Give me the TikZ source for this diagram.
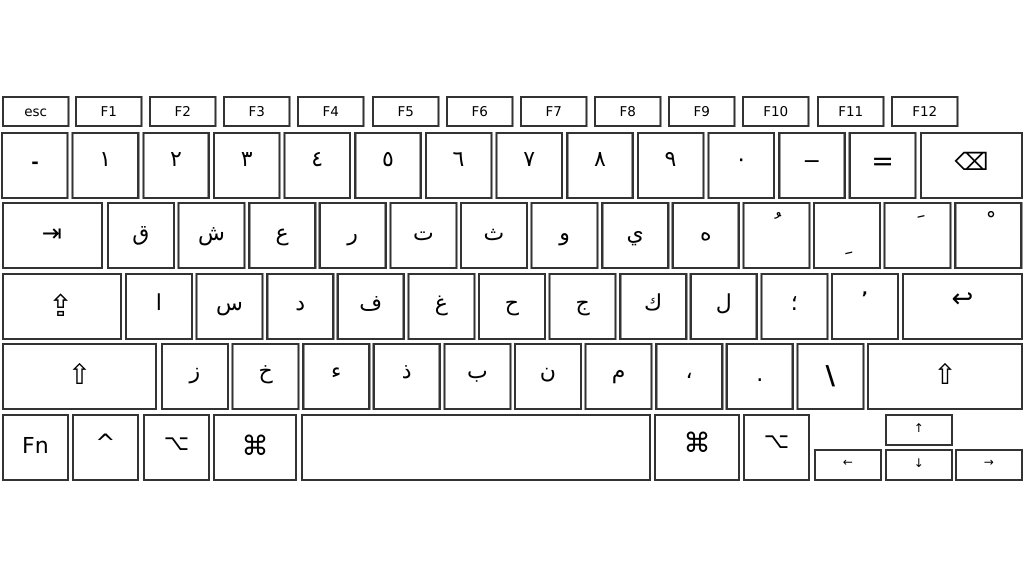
\documentclass[tikz,border=0pt]{standalone}
\usepackage{fontspec}
\setmainfont{DejaVu Sans}
\newfontfamily\arfont[Script=Arabic]{DejaVu Sans}
\TeXXeTstate=1
\newcommand\mykey[5]{\node[keybox, minimum width={((#4)-(#2))*1pt}, minimum height={((#5)-(#3))*1pt}] (#1) at ({((#2)+(#4))/2},{((#3)+(#5))/2}) {};}
\tikzset{
  keybox/.style={draw=black!40, line width=0.55pt, double=black!80, double distance=1.6pt, inner sep=0pt, outer sep=0pt},
  lab/.style={inner sep=0pt, outer sep=0pt, anchor=base},
  fk/.style={lab, font=\fontsize{13.5}{15}\selectfont, yshift=-4.8pt},
  ar/.style={lab, font=\arfont\fontsize{22}{26}\selectfont},
  dg/.style={lab, font=\arfont\fontsize{22}{26}\selectfont},
  sym/.style={inner sep=0pt, outer sep=0pt, anchor=center, font=\fontsize{18}{20}\selectfont},
  dia/.style={sym, font=\arfont\fontsize{24}{28}\selectfont},
}
\begin{document}
\begin{tikzpicture}[x=1pt,y=-1pt]
\useasboundingbox (0,0) rectangle (1024,576);
% function row
\foreach \t/\L in {esc/3, F1/76, F2/150, F3/224, F4/298, F5/373, F6/447, F7/521, F8/595, F9/669, F10/743, F11/818, F12/892} {
  \mykey{f\t}{\L}{97}{\L+65.5}{126}
  \node[fk] (f\t-t) at (f\t.center) {\t};
}
% number row
\mykey{n0}{2}{133}{67.5}{198}
\node[sym, font=\bfseries\fontsize{18}{20}\selectfont] (n0-t) at (35,165) {-};
\foreach \t [count=\i] in {١,٢,٣,٤,٥,٦,٧,٨,٩,٠} {
  \pgfmathsetmacro\L{2+70.65*\i}
  \mykey{n\i}{\L}{133}{\L+65.5}{198}
  \node[dg, yshift=-1pt] (n\i-t) at (n\i.center) {\beginR\t\endR};
}
\mykey{n11}{779.2}{133}{844.7}{198}
\node[sym, font=\fontsize{22}{24}\selectfont] (n11-t) at ([yshift=0.5pt]n11.center) {−};
\mykey{n12}{849.8}{133}{915.3}{198}
\node[sym, font=\fontsize{27}{30}\selectfont] (n12-t) at ([yshift=1pt]n12.center) {=};
\mykey{bksp}{921}{133}{1022}{198}
\node[sym, font=\fontsize{24}{26}\selectfont] (bksp-t) at ([yshift=4pt]bksp.center) {⌫};
% row 2
\mykey{tab}{3}{203}{102}{268}
\node[sym, font=\fontsize{24}{26}\selectfont] (tab-t) at ([xshift=-0.5pt,yshift=0pt]tab.center) {⇥};
\foreach \t [count=\i from 0] in {ق,ش,ع,ر,ت,ث,و,ي,ه} {
  \pgfmathsetmacro\L{108+70.6*\i}
  \mykey{q\i}{\L}{203}{\L+66}{268}
  \node[ar, yshift=-5pt] (q\i-t) at (q\i.center) {\beginR\t\endR};
}
\mykey{q9}{743.4}{203}{809.4}{268}
\node[dia] (q9-t) at ([xshift=1.5pt,yshift=12pt]q9.center) {ﹸ};
\mykey{q10}{814}{203}{880}{268}
\node[dia] (q10-t) at ([xshift=2pt,yshift=-18pt]q10.center) {ﹺ};
\mykey{q11}{884.6}{203}{950.6}{268}
\node[dia] (q11-t) at ([xshift=3.5pt,yshift=12pt]q11.center) {ﹶ};
\mykey{q12}{955.2}{203}{1021.2}{268}
\node[dia] (q12-t) at ([xshift=3pt,yshift=14pt]q12.center) {ﹾ};
% row 3
\mykey{caps}{3}{274}{121}{339}
\node[sym, font=\fontsize{30}{32}\selectfont] (caps-t) at ([xshift=-1pt,yshift=1pt]caps.center) {⇪};
\foreach \t [count=\i from 0] in {ا,س,د,ف,غ,ح,ج,ك,ل,؛} {
  \pgfmathsetmacro\L{126+70.6*\i}
  \mykey{a\i}{\L}{274}{\L+66}{339}
  \node[ar, yshift=-4pt] (a\i-t) at (a\i.center) {\beginR\t\endR};
}
\mykey{a10}{832}{274}{898}{339}
\node[sym, font=\bfseries\fontsize{16}{18}\selectfont] (a10-t) at ([yshift=9pt]a10.center) {'};
\mykey{ret}{903}{274}{1022}{339}
\node[sym, font=\fontsize{26}{28}\selectfont] (ret-t) at ([yshift=6pt]ret.center) {↩};
% row 4
\mykey{lsh}{3}{344}{156}{409}
\node[sym, font=\fontsize{28}{30}\selectfont] (lsh-t) at ([yshift=3pt]lsh.center) {⇧};
\foreach \t [count=\i from 0] in {ز,خ,ء,ذ,ب,ن,م,،} {
  \pgfmathsetmacro\L{162+70.6*\i}
  \mykey{z\i}{\L}{344}{\L+66}{409}
  \node[ar, yshift=-1.5pt] (z\i-t) at (z\i.center) {\beginR\t\endR};
}
\mykey{z8}{726.8}{344}{792.8}{409}
\node[ar, yshift=-5pt] (z8-t) at (z8.center) {.};
\mykey{z9}{797.4}{344}{863.4}{409}
\node[sym, font=\bfseries\fontsize{26}{28}\selectfont] (z9-t) at (z9.center) {\textbackslash};
\mykey{rsh}{868}{344}{1022}{409}
\node[sym, font=\fontsize{28}{30}\selectfont] (rsh-t) at ([yshift=3pt]rsh.center) {⇧};
% bottom row
\mykey{fn}{3}{415}{68}{480}
\node[sym, font=\fontsize{22}{24}\selectfont] (fn-t) at ([yshift=2pt]fn.center) {Fn};
\mykey{ctrl}{73}{415}{138}{480}
\node[sym, font=\fontsize{24}{26}\selectfont] (ctrl-t) at ([yshift=5pt]ctrl.center) {\^{}};
\mykey{lalt}{144}{415}{209}{480}
\node[sym, font=\fontsize{22}{24}\selectfont] (lalt-t) at ([yshift=3pt]lalt.center) {⌥};
\mykey{lcmd}{214}{415}{296}{480}
\node[sym, font=\fontsize{27}{30}\selectfont] (lcmd-t) at ([yshift=2pt]lcmd.center) {⌘};
\mykey{space}{302}{415}{650}{480}
\mykey{rcmd}{655}{415}{739}{480}
\node[sym, font=\fontsize{27}{30}\selectfont] (rcmd-t) at ([yshift=5pt]rcmd.center) {⌘};
\mykey{ralt}{744}{415}{809}{480}
\node[sym, font=\fontsize{22}{24}\selectfont] (ralt-t) at ([yshift=5pt]ralt.center) {⌥};
\mykey{left}{815}{450}{881}{480}
\node[sym, font=\fontsize{12}{13}\selectfont] (left-t) at ([yshift=2pt]left.center) {←};
\mykey{up}{886}{415}{952}{445}
\node[sym, font=\fontsize{12}{13}\selectfont] (up-t) at ([yshift=2pt]up.center) {↑};
\mykey{down}{886}{450}{952}{480}
\node[sym, font=\fontsize{12}{13}\selectfont] (down-t) at ([yshift=2pt]down.center) {↓};
\mykey{right}{956}{450}{1022}{480}
\node[sym, font=\fontsize{12}{13}\selectfont] (right-t) at ([yshift=2pt]right.center) {→};
\end{tikzpicture}
\end{document}
